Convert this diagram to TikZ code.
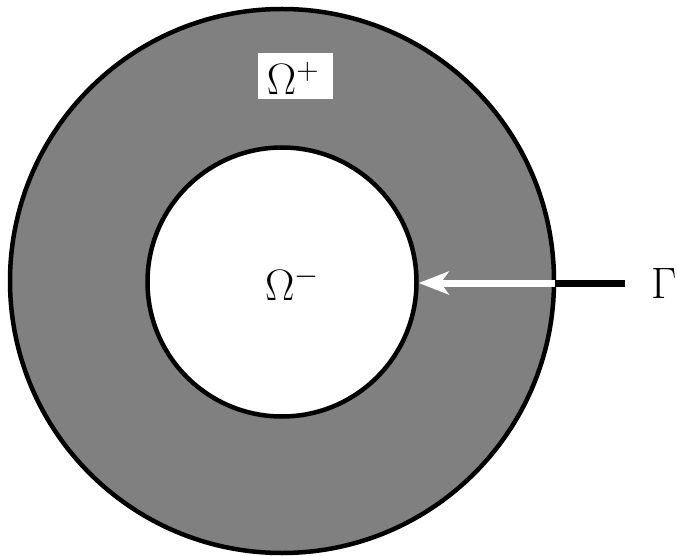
\documentclass[tikz,border=0pt]{standalone}
\usepackage{fix-cm}
\usepackage{amsmath,amssymb}
\usepackage{xcolor}
\usetikzlibrary{arrows.meta,positioning}
\definecolor{ringGray}{RGB}{128,128,128}

\begin{document}
\begin{tikzpicture}[x=1pt,y=1pt,
    bigtext/.style={font=\fontsize{44}{50}\selectfont, inner sep=0pt},
    rim/.style={line width=4.5pt}]
    \useasboundingbox (0,0) rectangle (677,555);

    % outer domain
    \draw[rim, fill=ringGray] (282,274) circle (272);

    % inner domain
    \node[circle, draw, rim, fill=white, minimum size=269pt, inner sep=0pt] (inner) at (282,273) {};
    \node[bigtext, anchor=base] (omminus) at (292,255) {$\Omega^-$};

    % label of the ring, on a white patch
    \node[fill=white, minimum width=75pt, minimum height=46pt, inner sep=0pt] (plusbox) at (295.5,479) {};
    \node[bigtext, anchor=base] (omplus) at (293,460) {$\Omega^+$};

    % interface label
    \node[bigtext, anchor=base west] (gamma) at (651,257) {$\Gamma$};
    \coordinate (rimpt) at (555,272);
    \coordinate (tail) at (625,272);
    \draw[line width=7pt] (tail) -- (rimpt);
    \draw[white, line width=7pt, -{Stealth[length=30pt,width=23pt,inset=8pt]}] (rimpt) -- (inner.east |- rimpt);
\end{tikzpicture}
\end{document}
